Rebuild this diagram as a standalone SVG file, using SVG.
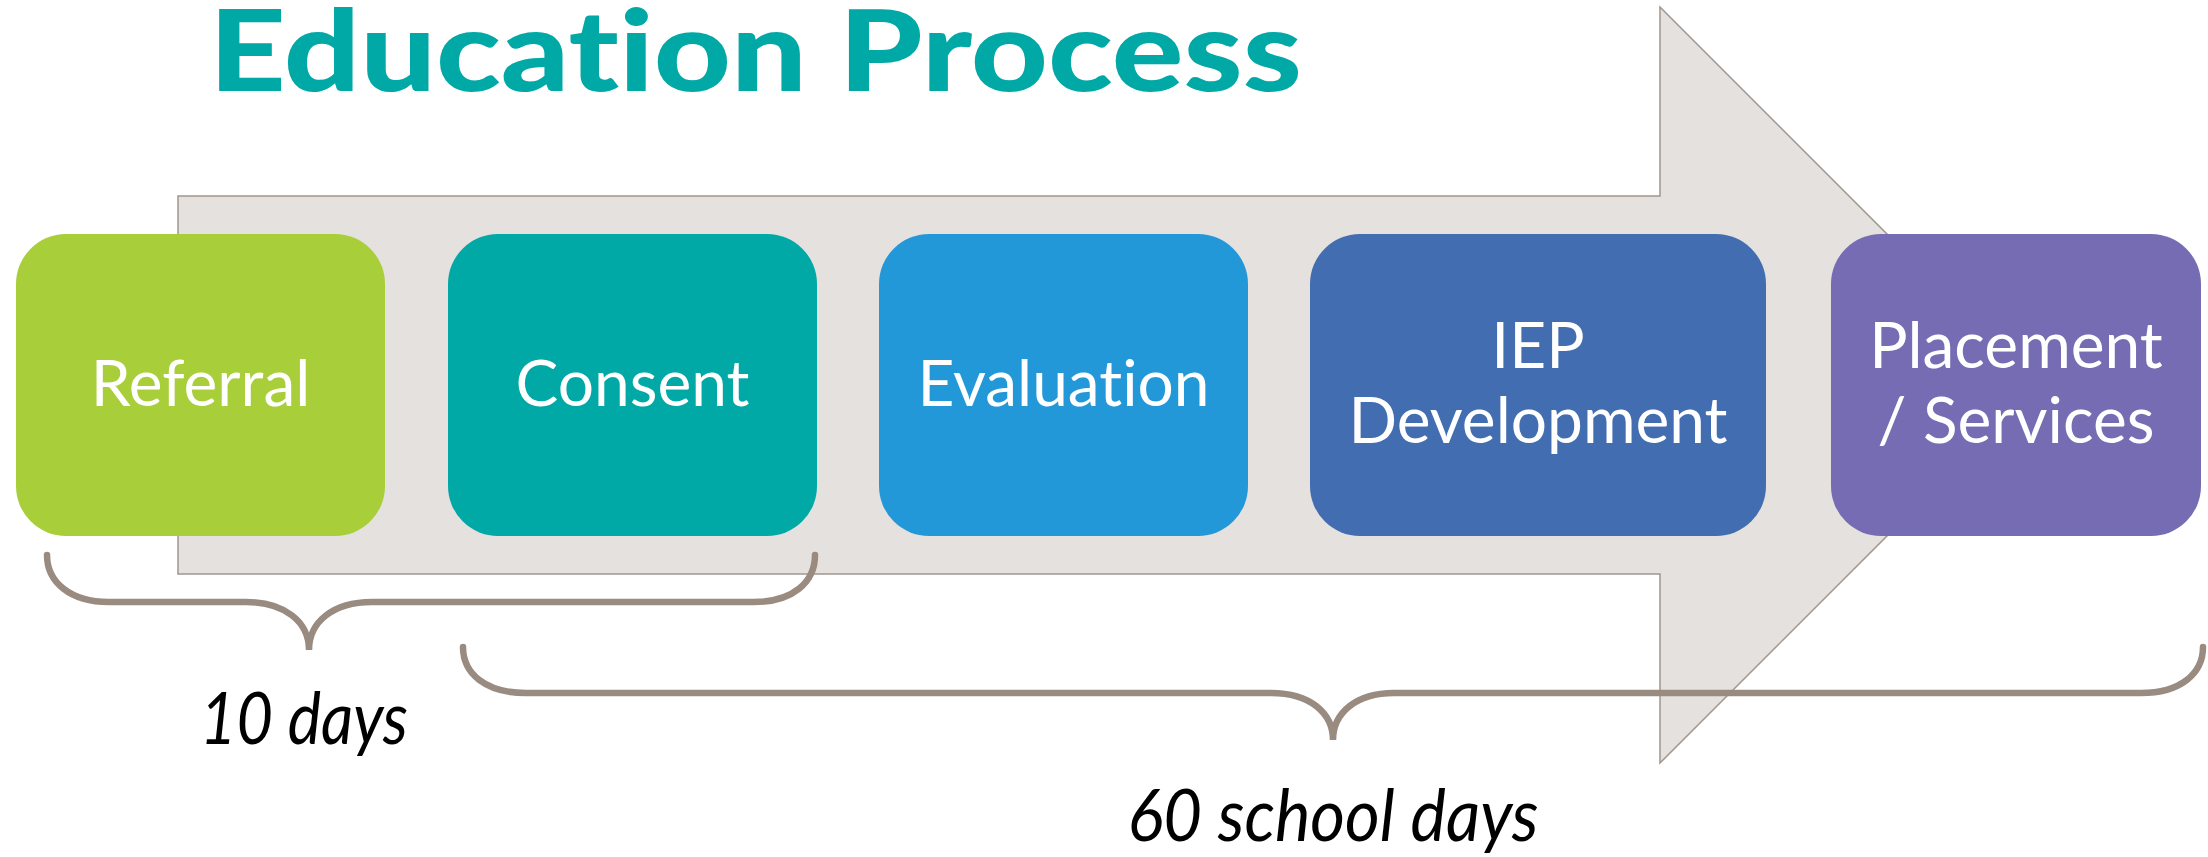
<svg xmlns="http://www.w3.org/2000/svg" width="2208" height="857" viewBox="0 0 2208 857">
<style>
text{font-variant-ligatures:none}
.box text{font-family:Lato,"Liberation Sans",sans-serif;font-size:64px;fill:#fff;text-anchor:middle}
.brace{fill:none;stroke:#9A8B80;stroke-width:6.5;stroke-linecap:round}
.lbl{font-family:Lato,"Liberation Sans",sans-serif;font-style:italic;font-size:72px;fill:#000;text-anchor:middle}
</style>
<rect width="2208" height="857" fill="#fff"/>
<text x="209" y="91" font-family="Lato,'Liberation Sans',sans-serif" font-weight="900" font-size="112" fill="#00A8A6" textLength="1093" lengthAdjust="spacingAndGlyphs">Education Process</text>
<path id="arrow" d="M178,196 H1660 V7 L2038,385 L1660,763 V574 H178 Z" fill="#E4E1DE" stroke="#A0968E" stroke-width="1.5"/>
<g id="referral" class="box"><rect x="16" y="234" width="369" height="302" rx="50" fill="#A8CF3A"/><text x="200.5" y="406">Referral</text></g>
<g id="consent" class="box"><rect x="448" y="234" width="369" height="302" rx="50" fill="#00A8A6"/><text x="632.5" y="406">Consent</text></g>
<g id="evaluation" class="box"><rect x="879" y="234" width="369" height="302" rx="50" fill="#2398D9"/><text x="1063.5" y="406">Evaluation</text></g>
<g id="iep" class="box"><rect x="1310" y="234" width="456" height="302" rx="50" fill="#426DB0"/><text x="1538" y="368">IEP</text><text x="1538" y="443">Development</text></g>
<g id="placement" class="box"><rect x="1831" y="234" width="370" height="302" rx="50" fill="#756CB3"/><text x="2016" y="368">Placement</text><text x="2016" y="443">/ Services</text></g>
<g id="connectors">
<path class="brace" d="M47,555 C47,582 70,602 109,602 H246 C285,602 309,622 309,650 C309,622 333,602 372,602 H754 C793,602 815,582 815,555"/>
<path class="brace" d="M463,647 C463,674 486,693 526,693 H1271 C1310,693 1333,713 1333,740 C1333,713 1356,693 1394,693 H2141 C2180,693 2203,674 2203,647"/>
</g>
<text class="lbl" x="304" y="744" textLength="208" lengthAdjust="spacingAndGlyphs">10 days</text>
<text class="lbl" x="1333" y="841" textLength="411" lengthAdjust="spacingAndGlyphs">60 school days</text>
</svg>
